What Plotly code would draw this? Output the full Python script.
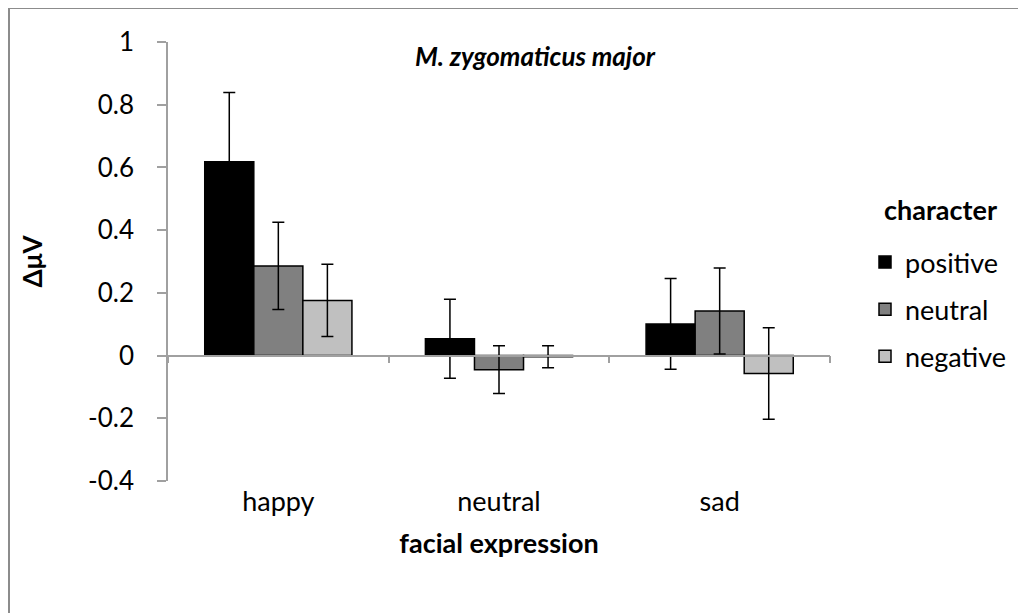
import plotly.graph_objects as go

categories = ["happy", "neutral", "sad"]
series_names = ["positive", "neutral", "negative"]
positive_vals = [0.618, 0.054, 0.101]
neutral_vals = [0.286, -0.045, 0.142]
negative_vals = [0.176, -0.004, -0.057]
positive_err = [0.221, 0.126, 0.145]
neutral_err = [0.139, 0.076, 0.137]
negative_err = [0.115, 0.035, 0.146]
bar_colors = ["#000000", "#808080", "#c0c0c0"]
ytick_vals = [-0.4, -0.2, 0, 0.2, 0.4, 0.6, 0.8, 1]
ytick_text = ["-0.4", "-0.2", "0", "0.2", "0.4", "0.6", "0.8", "1"]
y_range = [-0.4, 1.0]

FONT = "Lato"
W, H = 1026, 613
OFF = 8  # page body margin offset
ML, MT = 168 - OFF, 42 - OFF
PW, PH = 662, 439
MR = W - ML - PW
MB = H - MT - PH

fig = go.Figure()
for name, vals, errs, col in zip(series_names,
                                 [positive_vals, neutral_vals, negative_vals],
                                 [positive_err, neutral_err, negative_err],
                                 bar_colors):
    fig.add_trace(go.Bar(
        x=categories, y=vals, name=name, legendgroup=name,
        marker=dict(color=col, line=dict(color="#000000", width=1.5)),
        error_y=dict(type="data", array=errs, visible=True,
                     color="#000000", thickness=1.5, width=6),
    ))

# dummy trace so xaxis2 is drawn
fig.add_trace(go.Scatter(x=[0], y=[None], xaxis="x2", yaxis="y",
                         showlegend=False, hoverinfo="skip", mode="markers"))

zero_pos = (0 - y_range[0]) / (y_range[1] - y_range[0])


def px_x(sx):
    return (sx - OFF - ML) / PW


def px_y(sy):
    return (H - MB - (sy - OFF)) / PH


fig.update_layout(
    width=W, height=H,
    margin=dict(l=ML, r=MR, t=MT, b=MB, pad=0),
    paper_bgcolor="white", plot_bgcolor="white",
    barmode="group", bargap=0.333, bargroupgap=0,
    font=dict(family=FONT, color="#000000", size=26),
    title=dict(text="<b><i>M. zygomaticus major</i></b>",
               x=(535 - OFF) / W, xanchor="center",
               y=1 - (57 - OFF) / H, yanchor="middle",
               font=dict(family=FONT, size=26, color="#000000")),
    xaxis=dict(type="category", range=[-0.5, 2.5], anchor="free",
               position=zero_pos, showline=True, linecolor="#a0a0a0",
               linewidth=1.5, ticks="outside", tickson="boundaries",
               ticklen=7, tickcolor="#a0a0a0", tickwidth=1.5,
               showticklabels=False, showgrid=False, zeroline=False),
    xaxis2=dict(overlaying="x", anchor="y", side="bottom",
                range=[-0.5, 2.5], tickvals=list(range(len(categories))),
                ticktext=categories, showline=False, showgrid=False,
                zeroline=False, ticks="", ticklabelstandoff=2,
                tickfont=dict(family=FONT, size=27),
                title=dict(text="<b>facial expression</b>", standoff=18,
                           font=dict(family=FONT, size=27))),
    yaxis=dict(range=y_range, tickvals=ytick_vals, ticktext=ytick_text,
               showline=True, linecolor="#a0a0a0", linewidth=1.5,
               ticks="outside", ticklen=9, tickcolor="#a0a0a0", tickwidth=1.5,
               ticklabelstandoff=18, showgrid=False, zeroline=False,
               tickfont=dict(family=FONT, size=26),
               title=dict(text="<b>ΔμV</b>", standoff=38,
                          font=dict(family=FONT, size=26))),
    legend=dict(x=px_x(865), xanchor="left",
                y=px_y(238), yanchor="top",
                font=dict(family=FONT, size=27),
                traceorder="grouped", tracegroupgap=9, itemwidth=30,
                bgcolor="rgba(0,0,0,0)"),
    showlegend=True,
)

fig.add_annotation(text="<b>character</b>", xref="paper", yref="paper",
                   x=px_x(940), y=px_y(210), xanchor="center", yanchor="middle",
                   showarrow=False, font=dict(family=FONT, size=27))

# chart-area border (Excel style)
fig.add_shape(type="rect", xref="paper", yref="paper",
              x0=px_x(9), x1=px_x(W + 30),
              y0=px_y(H + 30), y1=px_y(8),
              line=dict(color="#8c8c8c", width=2), fillcolor="rgba(0,0,0,0)",
              layer="below")

fig.write_html("out.html")
